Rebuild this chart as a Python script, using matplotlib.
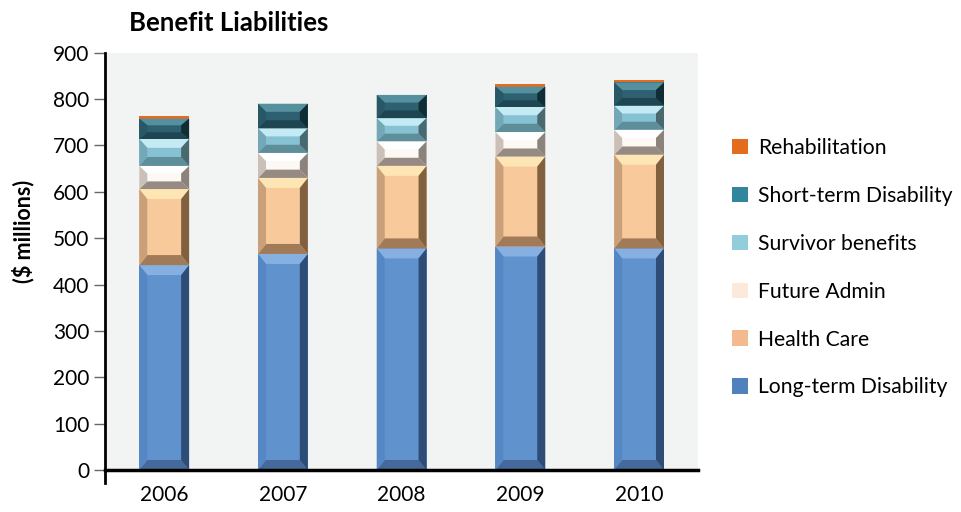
import matplotlib
matplotlib.use("Agg")
import matplotlib.pyplot as plt
from matplotlib.patches import Polygon, Patch

# data ($ millions)
years = ["2006", "2007", "2008", "2009", "2010"]
long_term = [442, 466, 478, 482, 478]
health_care = [164, 164, 178, 194, 202]
future_admin = [50, 54, 53, 53, 54]
survivor = [58, 53, 50, 54, 52]
short_term = [44, 53, 50, 44, 50]
rehab = [6, 0, 0, 6, 6]

series = [
    ("Long-term Disability", long_term),
    ("Health Care", health_care),
    ("Future Admin", future_admin),
    ("Survivor benefits", survivor),
    ("Short-term Disability", short_term),
    ("Rehabilitation", rehab),
]

# face, top, bottom, left, right  (bevelled look) + legend swatch
styles = {
    "Long-term Disability": ("#6092cd", "#86b0e2", "#46699c", "#5587c4", "#2e4d76", "#4f81bd"),
    "Health Care": ("#f8c99b", "#fde6b4", "#a17a58", "#c9a07a", "#80603f", "#f4b98c"),
    "Future Admin": ("#fcf8f4", "#ffffff", "#978a82", "#cbc0b8", "#8c827c", "#fde9d9"),
    "Survivor benefits": ("#86c2d3", "#c4eaf4", "#5f8e9b", "#74a8b6", "#49696f", "#92cddc"),
    "Short-term Disability": ("#2d6070", "#55909f", "#1e4652", "#285866", "#102c34", "#31859c"),
    "Rehabilitation": ("#e36c1e", "#e36c1e", "#e36c1e", "#e36c1e", "#e36c1e", "#e46c1f"),
}

plt.rcParams["font.family"] = ["Lato", "DejaVu Sans"]

fig = plt.figure(figsize=(9.62, 5.12), dpi=100)
ax = fig.add_axes([0.109, 0.082, 0.617, 0.815])
ax.set_facecolor("#f2f4f3")

x = list(range(len(years)))
ax.set_xlim(-0.5, len(years) - 0.5)
ax.set_ylim(0, 900)

sx = ax.bbox.width / (ax.get_xlim()[1] - ax.get_xlim()[0])
sy = ax.bbox.height / (ax.get_ylim()[1] - ax.get_ylim()[0])

bottoms = [0] * len(years)
for name, vals in series:
    face, top, bot, left, right, _ = styles[name]
    bars = ax.bar(x, vals, width=0.42, bottom=bottoms, color=face,
                  linewidth=0, zorder=2)
    for rect in bars:
        h_px = rect.get_height() * sy
        if h_px < 6:
            continue
        x0, y0 = rect.get_x(), rect.get_y()
        x1, y1 = x0 + rect.get_width(), y0 + rect.get_height()
        dx = 8 / sx
        dy = min(10, 0.33 * h_px) / sy
        polys = [
            ([(x0, y1), (x1, y1), (x1 - dx, y1 - dy), (x0 + dx, y1 - dy)], top),
            ([(x0, y0), (x1, y0), (x1 - dx, y0 + dy), (x0 + dx, y0 + dy)], bot),
            ([(x0, y0), (x0 + dx, y0 + dy), (x0 + dx, y1 - dy), (x0, y1)], left),
            ([(x1, y0), (x1 - dx, y0 + dy), (x1 - dx, y1 - dy), (x1, y1)], right),
        ]
        for pts, c in polys:
            ax.add_patch(Polygon(pts, closed=True, facecolor=c, edgecolor="none", zorder=3))
    bottoms = [b + v for b, v in zip(bottoms, vals)]

ax.set_xticks(x)
ax.set_xticklabels(years)
ax.set_yticks(range(0, 901, 100))
ax.tick_params(axis="x", length=0, labelsize=15, pad=11)
ax.tick_params(axis="y", length=8, width=1, color="#666666", labelsize=15, pad=3)

for s in ["top", "right"]:
    ax.spines[s].set_visible(False)
ax.spines["left"].set_linewidth(2)
ax.spines["bottom"].set_linewidth(2.5)
ax.spines["left"].set_zorder(5)
ax.spines["bottom"].set_zorder(5)
# short downward stub of the value axis below the baseline
ax.plot([ax.get_xlim()[0]] * 2, [0, -28], color="black", lw=2, clip_on=False, zorder=5)

fig.text(0.024, 0.548, "($ millions)", fontsize=15.5, fontweight="bold",
         rotation=90, ha="center", va="center")

fig.text(0.134, 0.955, "Benefit Liabilities", fontsize=18.5, fontweight="bold",
         ha="left", va="center")

handles = [Patch(facecolor=styles[n][5], edgecolor="none", label=n) for n, _ in reversed(series)]
fig.legend(handles=handles, loc="center left", bbox_to_anchor=(0.752, 0.477),
           frameon=False, fontsize=15.2, handlelength=0.75, handleheight=0.75,
           handletextpad=0.5, labelspacing=1.32, borderaxespad=0)

fig.savefig("out.png", dpi=100)
